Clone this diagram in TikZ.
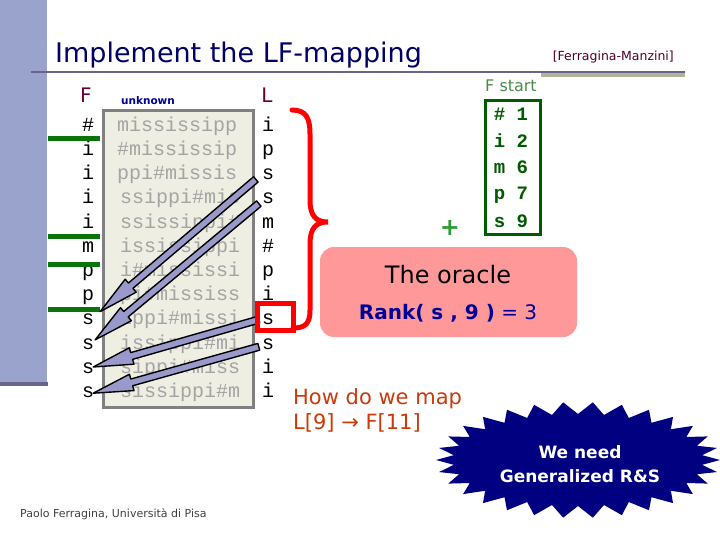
\documentclass[tikz,border=0pt]{standalone}
\usepackage{fontspec}
\setmainfont{DejaVu Sans}
\newfontfamily\monofont{Liberation Mono}
\usetikzlibrary{calc}
\definecolor{barblue}{HTML}{99A3CC}
\definecolor{rulepurple}{HTML}{66668C}
\definecolor{rulekhaki}{HTML}{B3B399}
\definecolor{titlenavy}{HTML}{000066}
\definecolor{maroon}{HTML}{660033}
\definecolor{boxfill}{HTML}{EEEEE2}
\definecolor{boxedge}{HTML}{808080}
\definecolor{rotgrey}{HTML}{A4A4A4}
\definecolor{arrowlav}{HTML}{9999CC}
\definecolor{sepgreen}{HTML}{0B730B}
\definecolor{fsgreen}{HTML}{4A8A4A}
\definecolor{fsdark}{HTML}{005A00}
\definecolor{plusgreen}{HTML}{339933}
\definecolor{oraclepink}{HTML}{FF9999}
\definecolor{rankblue}{HTML}{000099}
\definecolor{howorange}{HTML}{CC3A0A}
\definecolor{burstnavy}{HTML}{000080}
\definecolor{footgrey}{HTML}{404040}
\newcommand{\fatarrow}[2]{%
  \path (#1) coordinate (fa-t) (#2) coordinate (fa-h);
  \coordinate (fa-b) at ($(fa-h)!40pt!(fa-t)$);
  \filldraw[arrowbody] ($(fa-t)!3.5pt!90:(fa-h)$) -- ($(fa-b)!3.5pt!90:(fa-h)$)
    -- ($(fa-b)!8.5pt!90:(fa-h)$) -- (fa-h) -- ($(fa-b)!8.5pt!-90:(fa-h)$)
    -- ($(fa-b)!3.5pt!-90:(fa-h)$) -- ($(fa-t)!3.5pt!-90:(fa-h)$) -- cycle;}
\begin{document}
\begin{tikzpicture}[x=1pt,y=-1pt,
  letter/.style={font=\monofont\fontsize{20}{20}\selectfont, inner sep=0pt,
    text height=10.5pt, text depth=0pt, minimum width=12pt},
  rotation/.style={letter, text=rotgrey, anchor=west, minimum width=0pt},
  header/.style={font=\fontsize{20}{20}\selectfont, text=maroon, inner sep=0pt},
  sepline/.style={sepgreen, line width=5pt},
  arrowbody/.style={fill=arrowlav, draw=black, line width=1.4pt, line join=round},
  fsentry/.style={font=\monofont\bfseries\fontsize{19}{19}\selectfont, text=fsdark,
    inner sep=0pt, text height=12pt, text depth=0pt},
]
\useasboundingbox (0,0) rectangle (720,540);
% left bar and rules
\fill[barblue] (0,0) rectangle (47,385);
\fill[rulepurple] (0,382) rectangle (48,386);
\draw[rulepurple, line width=2pt] (31,72) -- (685,72);
\draw[rulekhaki, line width=3.5pt] (541,75) -- (685,75);
% title
\node[anchor=base west, inner sep=0pt, text=titlenavy, font=\fontsize{27}{27}\selectfont] (title) at (55,63) {Implement the LF-mapping};
\node[anchor=base east, inner sep=0pt, text=maroon!80!black, font=\fontsize{12.5}{12.5}\selectfont] (cite) at (674,61) {[Ferragina-Manzini]};
% middle box
\draw[boxedge, fill=boxfill, line width=3pt] (103,111) rectangle (253,407);
\foreach \r/\xx [count=\k from 0] in {mississipp/117, \#mississip/117, ppi\#missis/117,
  ssippi\#mis/120, ssissippi\#/120, ississippi/120, i\#mississi/120, pi\#mississ/120,
  ippi\#missi/120, issippi\#mi/120, sippi\#miss/120, sissippi\#m/120}
  \node[rotation] (R\k) at (\xx, {126+24.2*\k}) {\r};
% headers
\node[header] (Fh) at (86,95) {F};
\node[header] (Lh) at (267,95) {L};
\node[inner sep=0pt, text=rankblue, font=\bfseries\fontsize{10.5}{10.5}\selectfont] (unk) at (148,101) {unknown};
% F and L columns
\foreach \c [count=\k from 0] in {\#, i, i, i, i, m, p, p, s, s, s, s}
  \node[letter] (F\k) at (88, {126+24.2*\k}) {\c};
\foreach \c [count=\k from 0] in {i, p, s, s, m, \#, p, i, s, s, i, i}
  \node[letter] (L\k) at (268, {126+24.2*\k}) {\c};
% green separators
\foreach \yy in {139, 236, 264, 309}
  \draw[sepline] (48,\yy) -- (100,\yy);
% arrows L -> F
\fatarrow{[shift={(-6,5)}]L2.west}{[shift={(6,-8)}]F8.east}
\fatarrow{[shift={(-3,5)}]L3.west}{[shift={(1,-4)}]F9.east}
\fatarrow{[shift={(-3,0)}]L8.west}{[shift={(-1,-1)}]F10.east}
\fatarrow{[shift={(-3,3)}]L9.west}{[shift={(-1,1)}]F11.east}
% red highlight and brace
\draw[red, line width=5pt] (257,303) rectangle (293,330);
\draw[red, line width=5pt, line cap=round]
  (292,110) .. controls (306,110) and (310,118) .. (310,134) -- (310,200)
  .. controls (310,216) and (316,222) .. (328,222)
  .. controls (316,222) and (310,228) .. (310,244) -- (310,310)
  .. controls (310,324) and (305,328) .. (293,328);
% F start table
\node[inner sep=0pt, text=fsgreen, font=\fontsize{16}{16}\selectfont] (fstart) at (511,86) {F start};
\draw[fsdark, line width=3pt] (485,101) rectangle (540,234);
\foreach \a/\n/\yy in {\#/1/115, i/2/142, m/6/168, p/7/194, s/9/222}
  \node[fsentry] at (511,\yy) {\a\ \n};
\node[inner sep=0pt, text=plusgreen, font=\bfseries\fontsize{24}{24}\selectfont] (plus) at (450,228) {+};
% oracle box
\fill[oraclepink, rounded corners=14pt] (320,247) rectangle (577,337);
\node[inner sep=0pt, font=\fontsize{24}{24}\selectfont] (oracle) at (448,275) {The oracle};
\node[inner sep=0pt, text=rankblue, font=\fontsize{20}{20}\selectfont] (rank) at (448,313) {{\bfseries Rank( s , 9 )} = 3};
% question
\node[anchor=west, inner sep=0pt, text=howorange, font=\fontsize{21}{25}\selectfont, align=left] (how) at (293,410) {How do we map\\L[9] → F[11]};
% starburst
\fill[burstnavy] plot[domain=0:360, samples=61, variable=\t]
  ({578+(142-17*mod(round(\t/6),2))*cos(\t)}, {460+(58-12*mod(round(\t/6),2))*sin(\t)}) -- cycle;
\node[inner sep=0pt, text=white, align=center, font=\bfseries\fontsize{17}{24}\selectfont] (need) at (580,464) {We need\\Generalized R\&S};
% footer
\node[anchor=west, inner sep=0pt, text=footgrey, font=\fontsize{11}{11}\selectfont] (foot) at (20,514) {Paolo Ferragina, Università di Pisa};
\end{tikzpicture}
\end{document}
